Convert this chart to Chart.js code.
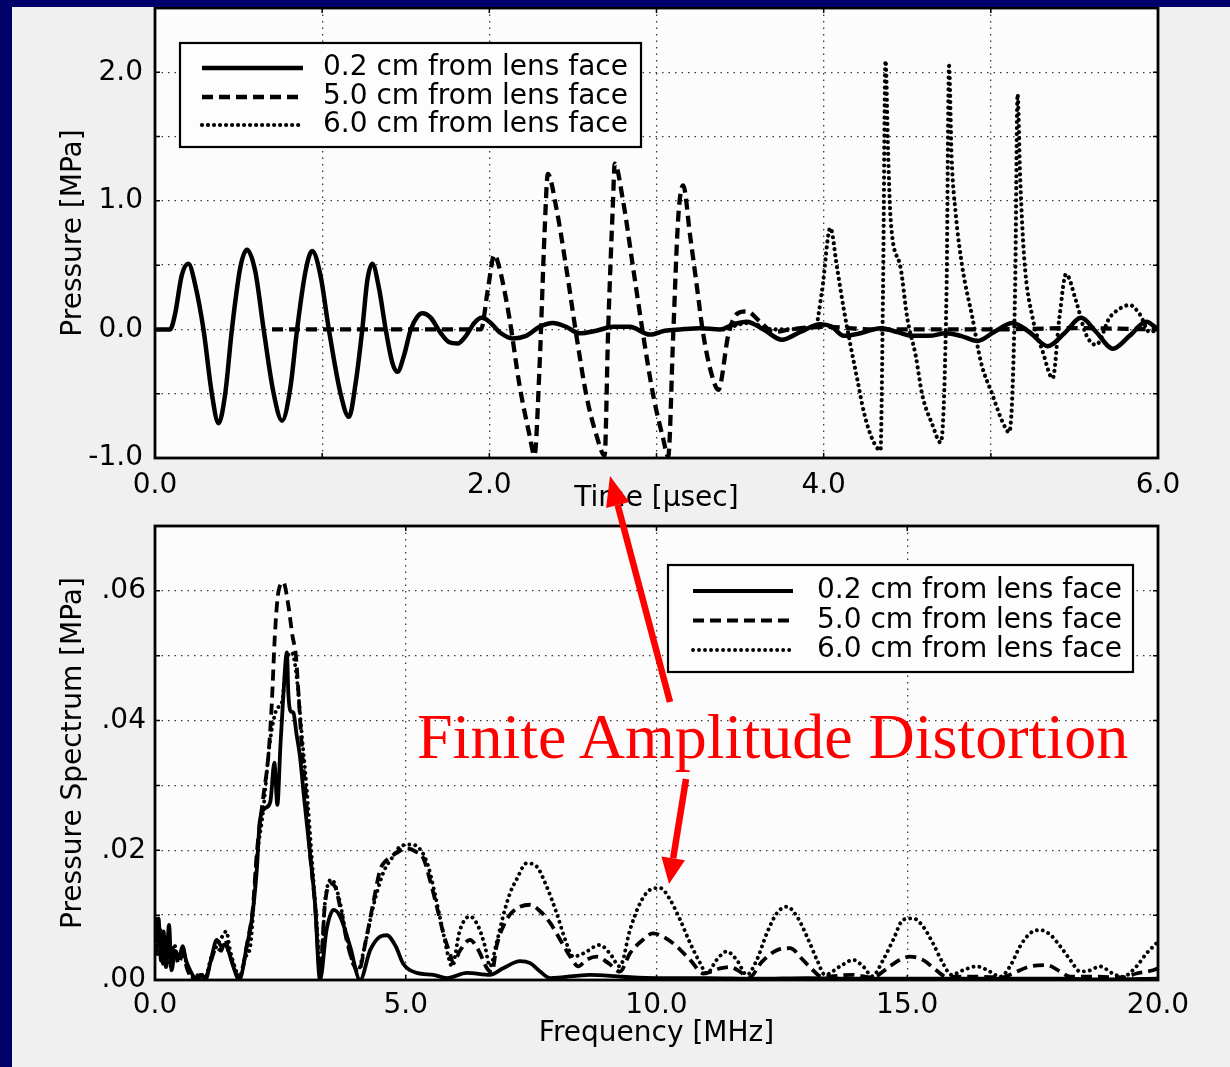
<!DOCTYPE html>
<html>
<head>
<meta charset="utf-8">
<script src="https://cdn.jsdelivr.net/npm/chart.js@4.4.1/dist/chart.umd.min.js"></script>
<style>
html,body{margin:0;padding:0;width:1230px;height:1067px;overflow:hidden;background:#f0f0f0;}
canvas{position:absolute;left:0;}
#c1{top:0;}
#c2{top:520px;}
.band{position:absolute;background:#00006b;}
#note{position:absolute;left:417px;top:705px;font-family:"Liberation Serif","Times New Roman",serif;font-size:64px;line-height:64px;color:#ff0000;white-space:nowrap;}
#arrows{position:absolute;left:0;top:0;}
</style>
</head>
<body>
<canvas id="c1" width="1230" height="520"></canvas>
<canvas id="c2" width="1230" height="547"></canvas>
<div class="band" style="left:0;top:0;width:12px;height:1067px"></div>
<div class="band" style="left:0;top:0;width:1230px;height:7px"></div>
<div id="note">Finite Amplitude Distortion</div>
<svg id="arrows" width="1230" height="1067">
  <line x1="670" y1="702" x2="617.7" y2="505" stroke="#ff0000" stroke-width="6.5"/>
  <polygon points="610,476 629.3,501.9 606.1,508.1" fill="#ff0000"/>
  <line x1="686" y1="779" x2="673.2" y2="858.3" stroke="#ff0000" stroke-width="6.5"/>
  <polygon points="669,884 685,860.2 661.4,856.4" fill="#ff0000"/>
</svg>
<script>
// ---------- DATA ----------
const seriesLabels = ['0.2 cm from lens face', '5.0 cm from lens face', '6.0 cm from lens face'];

// Top panel: [time µs, pressure MPa]
const pressure02 = [[0,0],[0.09,0],[0.12,0.12],[0.16,0.42],[0.20,0.51],[0.24,0.35],[0.29,0],[0.34,-0.5],[0.38,-0.73],[0.42,-0.5],[0.46,0],[0.51,0.48],[0.55,0.62],[0.60,0.45],[0.65,0],[0.71,-0.5],[0.76,-0.71],[0.81,-0.45],[0.85,0],[0.90,0.45],[0.94,0.61],[0.99,0.42],[1.04,0],[1.11,-0.5],[1.16,-0.68],[1.20,-0.42],[1.24,0],[1.27,0.38],[1.30,0.51],[1.34,0.32],[1.38,0],[1.42,-0.26],[1.45,-0.33],[1.49,-0.2],[1.53,0],[1.57,0.1],[1.60,0.125],[1.65,0.09],[1.71,-0.03],[1.76,-0.1],[1.81,-0.11],[1.86,-0.05],[1.91,0.05],[1.955,0.09],[2.0,0.06],[2.07,-0.03],[2.14,-0.07],[2.22,-0.05],[2.30,0.02],[2.38,0.05],[2.46,0.02],[2.54,-0.03],[2.64,-0.01],[2.74,0.02],[2.84,0.02],[2.96,-0.04],[3.05,-0.01],[3.14,0],[3.26,0.01],[3.38,0],[3.46,0.04],[3.54,0.06],[3.64,0],[3.75,-0.08],[3.86,-0.02],[3.98,0.04],[4.05,0.02],[4.12,-0.05],[4.22,-0.03],[4.34,0.01],[4.44,-0.02],[4.53,-0.05],[4.63,-0.05],[4.73,-0.03],[4.82,-0.05],[4.92,-0.09],[5.02,-0.02],[5.13,0.05],[5.23,-0.02],[5.34,-0.13],[5.44,-0.03],[5.54,0.09],[5.63,-0.02],[5.73,-0.15],[5.83,-0.05],[5.93,0.06],[6.0,0]];
const pressure50 = [[0.7,0],[1.95,0],[1.99,0.3],[2.03,0.58],[2.06,0.48],[2.12,0.09],[2.18,-0.43],[2.24,-0.82],[2.27,-0.98],[2.30,-0.3],[2.33,0.74],[2.35,1.21],[2.40,0.95],[2.46,0.48],[2.52,-0.04],[2.58,-0.51],[2.64,-0.82],[2.69,-0.98],[2.71,-0.04],[2.74,1.0],[2.75,1.29],[2.80,1.0],[2.86,0.48],[2.92,-0.04],[2.98,-0.51],[3.04,-0.85],[3.07,-0.99],[3.10,-0.04],[3.13,0.87],[3.16,1.12],[3.20,0.74],[3.24,0.35],[3.28,-0.04],[3.33,-0.35],[3.37,-0.47],[3.43,-0.04],[3.48,0.12],[3.54,0.14],[3.62,0.06],[3.70,-0.02],[3.80,0],[4.0,0.02],[4.3,0],[5.0,0],[5.5,0.01],[6.0,0]];
const pressure60 = [[3.4,0],[3.55,0.05],[3.7,0],[3.95,0.02],[3.99,0.3],[4.04,0.79],[4.08,0.48],[4.12,0.16],[4.16,-0.12],[4.20,-0.38],[4.24,-0.64],[4.29,-0.85],[4.34,-0.94],[4.355,0.3],[4.37,2.09],[4.385,1.4],[4.40,0.87],[4.46,0.48],[4.50,0.09],[4.55,-0.2],[4.59,-0.51],[4.65,-0.74],[4.70,-0.88],[4.735,0.3],[4.75,2.05],[4.765,1.35],[4.79,0.9],[4.83,0.48],[4.89,0.09],[4.94,-0.25],[5.01,-0.51],[5.07,-0.72],[5.11,-0.80],[5.145,0.3],[5.16,1.83],[5.175,1.2],[5.20,0.55],[5.25,0.09],[5.31,-0.17],[5.37,-0.38],[5.41,0.09],[5.45,0.43],[5.51,0.22],[5.57,-0.04],[5.63,-0.12],[5.71,0.09],[5.77,0.16],[5.83,0.19],[5.89,0.12],[5.95,-0.02],[6.0,0]];

// Bottom panel: [frequency MHz, spectrum MPa]
const spectrum02 = [[0,0.0097],[0.03,0.006],[0.07,0.0095],[0.12,0.003],[0.17,0.0075],[0.22,0.002],[0.28,0.0085],[0.33,0.0015],[0.40,0.0045],[0.48,0.0035],[0.55,0.0052],[0.62,0.003],[0.70,0.0015],[0.78,0.0004],[0.85,0],[0.93,0.0008],[1.0,0],[1.13,0.0036],[1.23,0.0062],[1.33,0.0052],[1.40,0.0055],[1.46,0.0046],[1.56,0.0021],[1.68,0],[1.83,0.0052],[1.93,0.0093],[2.03,0.017],[2.09,0.0245],[2.20,0.0265],[2.30,0.0275],[2.38,0.0335],[2.44,0.027],[2.50,0.036],[2.56,0.044],[2.63,0.0505],[2.66,0.044],[2.70,0.0415],[2.76,0.0412],[2.82,0.038],[2.89,0.0345],[2.97,0.0283],[3.09,0.0196],[3.19,0.0118],[3.29,0],[3.42,0.0077],[3.56,0.0108],[3.69,0.0098],[3.89,0.0052],[4.09,0],[4.29,0.0046],[4.49,0.0067],[4.62,0.0069],[4.80,0.0052],[4.95,0.0025],[5.22,0.0011],[5.55,0.0008],[5.82,0.0003],[6.22,0.0011],[6.68,0.0008],[6.94,0.0018],[7.28,0.0029],[7.48,0.0026],[7.68,0.0013],[7.88,0.0003],[8.67,0.0008],[9.33,0.0005],[10.0,0.0003],[11.0,0.0003],[12.0,0.0002],[13.0,0.0003],[14.0,0.0002],[15.0,0.0002],[16.0,0.0002],[17.0,0.0002],[18.0,0.0002],[19.0,0.0001],[20.0,0.0002]];
const spectrum50 = [[0,0.008],[0.05,0.004],[0.1,0.007],[0.16,0.0025],[0.22,0.006],[0.3,0.003],[0.38,0.005],[0.47,0.0025],[0.55,0.004],[0.65,0.0015],[0.78,0],[0.9,0.0008],[1.0,0.0003],[1.12,0.003],[1.22,0.005],[1.32,0.0045],[1.40,0.0062],[1.48,0.004],[1.58,0.002],[1.68,0.0003],[1.85,0.0062],[1.95,0.011],[2.03,0.0196],[2.16,0.0283],[2.26,0.0345],[2.33,0.0428],[2.39,0.0531],[2.46,0.0598],[2.56,0.0613],[2.66,0.0577],[2.74,0.0531],[2.81,0.050],[2.88,0.0418],[2.94,0.0345],[3.01,0.0283],[3.09,0.0196],[3.19,0.0118],[3.29,0.0015],[3.39,0.0118],[3.49,0.0149],[3.59,0.0144],[3.69,0.0113],[3.82,0.0062],[3.95,0.0026],[4.05,0.0012],[4.22,0.0067],[4.35,0.0118],[4.49,0.017],[4.62,0.0185],[4.82,0.0196],[5.0,0.0203],[5.2,0.0198],[5.35,0.0188],[5.48,0.0155],[5.62,0.0113],[5.75,0.0072],[5.88,0.0041],[5.95,0.0026],[6.08,0.0045],[6.28,0.0062],[6.45,0.0046],[6.62,0.0018],[6.72,0.0012],[6.81,0.0052],[7.01,0.0093],[7.21,0.011],[7.48,0.0116],[7.68,0.0106],[7.88,0.0088],[8.08,0.0062],[8.28,0.0036],[8.44,0.0021],[8.6,0.0031],[8.81,0.0036],[9.04,0.0026],[9.27,0.0013],[9.47,0.0041],[9.73,0.0062],[9.93,0.0072],[10.13,0.0067],[10.4,0.0052],[10.67,0.0031],[10.94,0.001],[11.27,0.0018],[11.47,0.002],[11.66,0.0013],[11.85,0.0004],[12.1,0.0028],[12.4,0.0046],[12.66,0.0049],[12.92,0.0031],[13.12,0.0015],[13.3,0.0005],[13.9,0.0008],[14.3,0.0004],[14.65,0.0021],[14.85,0.0031],[15.05,0.0036],[15.31,0.0031],[15.58,0.0015],[15.78,0.0005],[16.4,0.0005],[16.9,0.0004],[17.1,0.001],[17.45,0.0021],[17.78,0.0023],[18.05,0.0013],[18.25,0.0005],[18.8,0.0005],[19.3,0.0004],[19.57,0.001],[19.9,0.0015],[20,0.0018]];
const spectrum60 = [[0,0.009],[0.05,0.005],[0.1,0.008],[0.16,0.003],[0.22,0.0065],[0.3,0.002],[0.38,0.0055],[0.47,0.003],[0.55,0.0045],[0.65,0.002],[0.78,0.0003],[0.9,0.001],[1.0,0.0004],[1.12,0.0035],[1.25,0.0055],[1.35,0.0068],[1.42,0.0075],[1.50,0.0045],[1.60,0.0018],[1.68,0.0004],[1.80,0.0035],[1.90,0.0052],[2.03,0.0186],[2.16,0.0263],[2.29,0.0366],[2.43,0.0418],[2.53,0.0428],[2.63,0.0495],[2.73,0.0505],[2.83,0.0464],[2.93,0.0376],[3.02,0.03],[3.12,0.0196],[3.22,0.0093],[3.30,0.0015],[3.39,0.012],[3.52,0.0155],[3.66,0.0129],[3.82,0.0067],[3.95,0.0025],[4.05,0.0015],[4.15,0.0041],[4.35,0.0113],[4.55,0.0165],[4.75,0.0191],[4.89,0.0206],[5.12,0.0209],[5.32,0.0198],[5.45,0.0175],[5.55,0.0144],[5.65,0.0108],[5.75,0.0072],[5.85,0.0036],[5.92,0.0021],[6.08,0.0077],[6.28,0.0098],[6.45,0.0082],[6.58,0.0052],[6.68,0.0021],[6.81,0.0057],[6.94,0.0098],[7.08,0.0134],[7.21,0.0155],[7.41,0.018],[7.61,0.0175],[7.81,0.0144],[8.01,0.0103],[8.18,0.0062],[8.34,0.0036],[8.54,0.0041],[8.87,0.0054],[9.07,0.0041],[9.27,0.0021],[9.47,0.0077],[9.67,0.0118],[9.87,0.0139],[10.07,0.0142],[10.27,0.0124],[10.47,0.0093],[10.67,0.0057],[10.87,0.0026],[11.0,0.001],[11.2,0.0031],[11.4,0.0044],[11.6,0.0031],[11.8,0.0008],[12.0,0.0031],[12.2,0.0072],[12.4,0.0103],[12.6,0.0113],[12.8,0.0098],[13.0,0.0067],[13.2,0.0031],[13.36,0.0008],[13.66,0.0021],[13.92,0.0031],[14.12,0.0021],[14.3,0.0006],[14.52,0.0031],[14.72,0.0062],[14.92,0.0093],[15.12,0.0095],[15.31,0.0083],[15.51,0.0057],[15.71,0.0026],[15.88,0.0008],[16.11,0.0015],[16.38,0.0021],[16.65,0.0013],[16.85,0.0005],[17.05,0.0021],[17.25,0.0052],[17.45,0.0072],[17.65,0.0077],[17.85,0.007],[18.05,0.0052],[18.25,0.0031],[18.45,0.0013],[18.65,0.0015],[18.84,0.0021],[19.1,0.001],[19.3,0.0005],[19.57,0.0021],[19.77,0.0041],[19.97,0.0057],[20.0,0.006]];

// Tick labels
const timeTickLabels = {0:'0.0', 2:'2.0', 4:'4.0', 6:'6.0'};
const pressureTickLabels = {'-1':'-1.0', '0':'0.0', '1':'1.0', '2':'2.0'};
const freqTickLabels = {0:'0.0', 5:'5.0', 10:'10.0', 15:'15.0', 20:'20.0'};
const spectrumTickLabels = {0:'.00', 2:'.02', 4:'.04', 6:'.06'};

// ---------- RENDER ----------
Chart.defaults.devicePixelRatio = 1;
const FONT = '"DejaVu Sans", sans-serif';
const INK = '#000';
const styles = [
  {borderDash: [], borderCapStyle: 'butt'},
  {borderDash: [11, 6], borderCapStyle: 'butt'},
  {borderDash: [0.01, 6], borderCapStyle: 'round'}
];

function mkDatasets(list, widths) {
  return list.map((arr, i) => Object.assign({
    label: seriesLabels[i],
    data: arr.map(p => ({x: p[0], y: p[1]})),
    borderColor: '#000',
    borderWidth: widths[i],
    pointRadius: 0,
    fill: false,
    cubicInterpolationMode: 'monotone',
    order: 2 - i
  }, styles[i]));
}

const framePlugin = {
  id: 'frame',
  beforeDraw(chart) {
    const {ctx, chartArea: a} = chart;
    ctx.save();
    ctx.fillStyle = '#fcfcfc';
    ctx.fillRect(a.left, a.top, a.right - a.left, a.bottom - a.top);
    ctx.restore();
  },
  afterDraw(chart, args, opts) {
    const {ctx, chartArea: a, scales} = chart;
    ctx.save();
    ctx.strokeStyle = '#000';
    ctx.lineWidth = 2.8;
    ctx.strokeRect(a.left, a.top, a.right - a.left, a.bottom - a.top);
    ctx.lineWidth = 1.5;
    ctx.beginPath();
    scales.y.ticks.forEach(t => {
      const y = scales.y.getPixelForValue(t.value);
      ctx.moveTo(a.left, y); ctx.lineTo(a.left + 5, y);
      ctx.moveTo(a.right, y); ctx.lineTo(a.right - 5, y);
    });
    scales.x.ticks.forEach(t => {
      const x = scales.x.getPixelForValue(t.value);
      ctx.moveTo(x, a.bottom); ctx.lineTo(x, a.bottom - 5);
      ctx.moveTo(x, a.top); ctx.lineTo(x, a.top + 5);
    });
    ctx.stroke();
    // legend
    const L = opts.legend;
    if (L) {
      ctx.fillStyle = '#fdfdfd';
      ctx.fillRect(L.box[0], L.box[1], L.box[2] - L.box[0], L.box[3] - L.box[1]);
      ctx.lineWidth = 2.2;
      ctx.strokeStyle = '#000';
      ctx.strokeRect(L.box[0], L.box[1], L.box[2] - L.box[0], L.box[3] - L.box[1]);
      chart.data.datasets.forEach((ds, i) => {
        ctx.save();
        ctx.setLineDash(ds.borderDash || []);
        ctx.lineCap = ds.borderCapStyle || 'butt';
        ctx.lineWidth = ds.borderWidth;
        ctx.beginPath();
        ctx.moveTo(L.sx1, L.rows[i]);
        ctx.lineTo(L.sx2, L.rows[i]);
        ctx.stroke();
        ctx.restore();
        ctx.fillStyle = INK;
        ctx.font = '28px ' + FONT;
        ctx.textBaseline = 'middle';
        ctx.textAlign = 'left';
        ctx.fillText(ds.label, L.tx, L.rows[i]);
      });
    }
    ctx.restore();
  }
};

function axisCommon() {
  return {
    type: 'linear',
    grid: {color: '#3a3a3a', lineWidth: 1.3, drawTicks: false},
    border: {display: false, dash: [1.5, 5]},
    ticks: {color: INK, font: {family: FONT, size: 28}, maxRotation: 0, autoSkip: false}
  };
}

function makeChart(id, cfg) {
  const xs = axisCommon(), ys = axisCommon();
  Object.assign(xs, {min: cfg.xmin, max: cfg.xmax, position: 'bottom',
    title: {display: true, text: cfg.xTitle, color: INK, font: {family: FONT, size: 28}, padding: {top: 0, bottom: cfg.xTitlePad}},
    afterFit: s => { s.height = cfg.xAxisH; s.paddingLeft = 0; s.paddingRight = 0; }
  });
  xs.ticks = Object.assign({}, xs.ticks, {stepSize: cfg.xStep, padding: cfg.xTickPad, callback: cfg.xCb});
  Object.assign(ys, {min: cfg.ymin, max: cfg.ymax, position: 'left',
    title: {display: true, text: cfg.yTitle, color: INK, font: {family: FONT, size: 28}, padding: {top: cfg.yTitlePad, bottom: 0}},
    afterFit: s => { s.width = 155; s.paddingTop = 0; s.paddingBottom = 0; }
  });
  ys.ticks = Object.assign({}, ys.ticks, {stepSize: cfg.yStep, padding: cfg.yTickPad, callback: cfg.yCb});
  return new Chart(document.getElementById(id), {
    type: 'line',
    data: {datasets: mkDatasets(cfg.series, cfg.lw)},
    options: {
      responsive: false,
      animation: false,
      layout: {padding: {left: 0, right: 72, top: cfg.padTop, bottom: 0}},
      plugins: {legend: {display: false}, tooltip: {enabled: false}, frame: {legend: cfg.legend}},
      scales: {x: xs, y: ys}
    },
    plugins: [framePlugin]
  });
}

makeChart('c1', {
  series: [pressure02, pressure50, pressure60], lw: [4.5, 4.3, 4.2],
  xmin: 0, xmax: 6, xStep: 1, ymin: -1, ymax: 2.5, yStep: 0.5,
  xCb: v => (Math.abs(v - Math.round(v)) < 1e-6 && timeTickLabels[Math.round(v)]) || '',
  yCb: v => { const k = Math.round(v * 2) / 2; return (Number.isInteger(k) && pressureTickLabels[String(k)]) || ''; },
  xTitle: 'Time [µsec]', yTitle: 'Pressure [MPa]',
  xTitlePad: 4, yTitlePad: 57, yTickPad: 12, xTickPad: 11,
  xAxisH: 62, padTop: 8,
  legend: {box: [180, 43, 641, 147], rows: [68, 97, 125], sx1: 202, sx2: 303, tx: 323}
});

makeChart('c2', {
  series: [spectrum02, spectrum50, spectrum60], lw: [3.8, 3.8, 3.9],
  xmin: 0, xmax: 20, xStep: 5, ymin: 0, ymax: 0.07, yStep: 0.01,
  xCb: v => freqTickLabels[Math.round(v)] || '',
  yCb: v => spectrumTickLabels[Math.round(v * 100)] || '',
  xTitle: 'Frequency [MHz]', yTitle: 'Pressure Spectrum [MPa]',
  xTitlePad: 16, yTitlePad: 57, yTickPad: 9, xTickPad: 9,
  xAxisH: 87, padTop: 6,
  legend: {box: [668, 45, 1133, 152], rows: [71, 100.5, 130], sx1: 693, sx2: 793, tx: 817}
});
</script>
</body>
</html>
